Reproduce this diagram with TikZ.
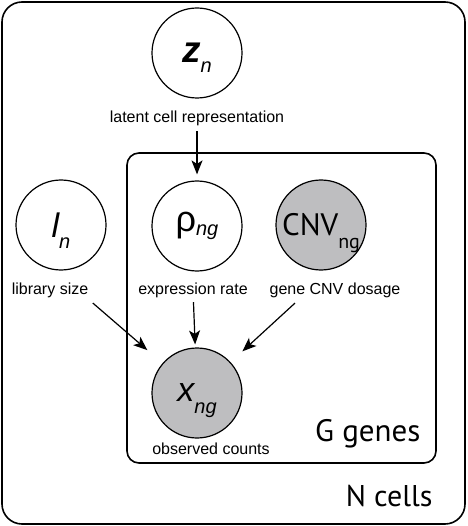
\documentclass[tikz,border=0pt]{standalone}
\usepackage{fontspec}
\setmainfont{Liberation Sans}
\newfontfamily\platefont{PT Sans}
\usetikzlibrary{arrows.meta}
\definecolor{obsgray}{RGB}{190,190,192}
\tikzset{every picture/.style={line width=1.2pt}}
\newcommand{\sub}[2]{\raisebox{#1}[0pt][0pt]{\fontsize{20}{20}\selectfont #2}}

\begin{document}
\begin{tikzpicture}[x=1pt, y=-1pt, >={Stealth[length=14pt, width=11pt, inset=3.5pt]},
    var/.style={circle, draw, minimum size=90pt, inner sep=0pt},
    obs/.style={var, fill=obsgray},
    lbl/.style={font=\fontsize{16}{18}\selectfont, inner sep=1pt},
    plabel/.style={font=\platefont\fontsize{31}{32}\selectfont, inner sep=0pt},
    plate/.style={draw, line width=1.6pt}]
        \useasboundingbox (0,0) rectangle (467,526);
        % plates
        \draw[plate, rounded corners=20pt] (2,2) rectangle (465,524);
        \draw[plate, rounded corners=12pt] (127,153) rectangle (436,463);
        % variables
        \node[var] (zn)  at (197,53)  {{\fontsize{37}{37}\selectfont\bfseries\itshape z}\sub{-10pt}{\itshape n}};
        \node[var] (ln)  at (61,225)  {{\fontsize{34}{34}\selectfont\itshape l}\sub{-11pt}{\itshape n}};
        \node[var] (rho) at (197,226) {{\fontsize{36}{36}\selectfont ρ}\sub{-4pt}{\itshape ng}};
        \node[obs] (cnv) at (321,225) {{\platefont\fontsize{31}{31}\selectfont CNV}\sub{-13pt}{\platefont ng}};
        \node[obs] (xng) at (197,393) {{\fontsize{34}{34}\selectfont\itshape x}\sub{-12pt}{\itshape ng}};
        % descriptions
        \node[lbl] (latent)  at (197,118) {latent cell representation};
        \node[lbl] (libsize) at (50,290)  {library size};
        \node[lbl] (exprate) at (193,290) {expression rate};
        \node[lbl] (cnvdos)  at (335,290) {gene CNV dosage};
        \node[lbl] (obscnt)  at (211,449) {observed counts};
        % plate names
        \node[plabel, anchor=base east] (ggenes) at (421,441) {G genes};
        \node[plabel, anchor=base east, font=\platefont\fontsize{30}{31}\selectfont] (ncells) at (433,506) {N cells};
        % dependencies
        \draw[->, shorten <=4pt, shorten >=6pt] (latent) -- (rho);
        \draw[->, shorten >=20pt] ([shift={(3,4)}]libsize.south east) -- (xng);
        \draw[->, shorten <=3pt, shorten >=3pt] (exprate) -- (xng);
        \draw[->, shorten >=16pt] ([shift={(27,4)}]cnvdos.south west) -- (xng);
    \end{tikzpicture}
\end{document}
